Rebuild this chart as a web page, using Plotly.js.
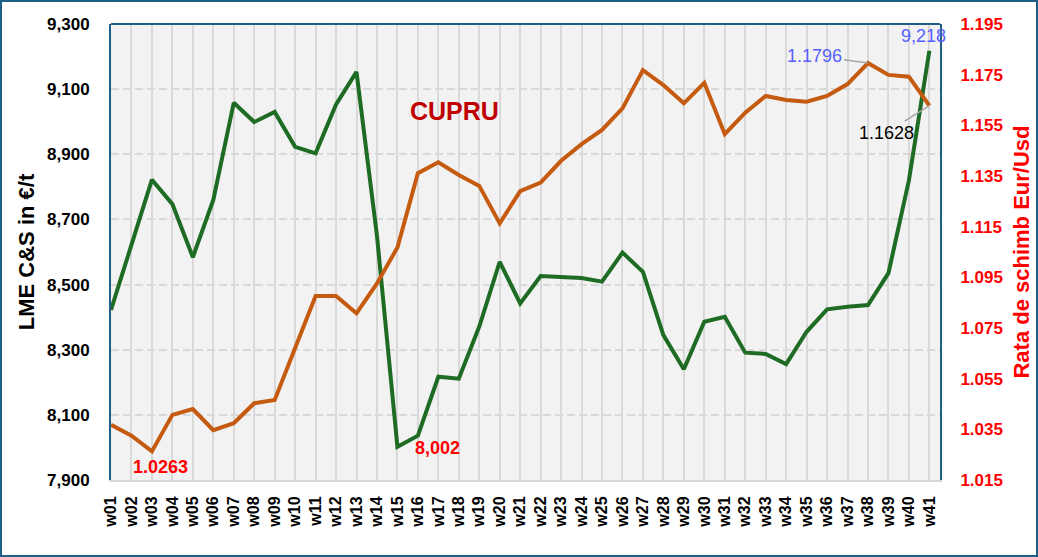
<!DOCTYPE html>
<html>
<head>
<meta charset="utf-8">
<script src="https://cdn.plot.ly/plotly-3.0.1.min.js"></script>
<style>
html,body{margin:0;padding:0;background:#fff;}
#chart{width:1038px;height:557px;box-sizing:border-box;border:2px solid #1F5F85;}
</style>
</head>
<body>
<div id="chart"></div>
<script>
const weeks = ["w01","w02","w03","w04","w05","w06","w07","w08","w09","w10",
  "w11","w12","w13","w14","w15","w16","w17","w18","w19","w20",
  "w21","w22","w23","w24","w25","w26","w27","w28","w29","w30",
  "w31","w32","w33","w34","w35","w36","w37","w38","w39","w40","w41"];

const lmeEur = [8422, 8620, 8822, 8747, 8584, 8760, 9058, 8999, 9030, 8923,
  8903, 9053, 9153, 8650, 8002, 8036, 8217, 8211, 8371, 8570,
  8442, 8526, 8523, 8520, 8509, 8598, 8539, 8345, 8240, 8386,
  8401, 8291, 8287, 8256, 8355, 8424, 8432, 8437, 8535, 8820, 9218];

const eurUsd = [1.0368, 1.0325, 1.0263, 1.0407, 1.0430, 1.0347, 1.0374, 1.0453, 1.0466, 1.0670,
  1.0876, 1.0876, 1.0808, 1.0926, 1.1068, 1.1361, 1.1404, 1.1354, 1.1311, 1.1163,
  1.1290, 1.1324, 1.1410, 1.1476, 1.1532, 1.1617, 1.1768, 1.1709, 1.1637, 1.1718,
  1.1515, 1.1600, 1.1666, 1.1650, 1.1643, 1.1666, 1.1713, 1.1796, 1.1749, 1.1742, 1.1628];

const leftTicks = [7900, 8100, 8300, 8500, 8700, 8900, 9100, 9300];
const rightTicks = [1.015, 1.035, 1.055, 1.075, 1.095, 1.115, 1.135, 1.155, 1.175, 1.195];

const FONT = "Liberation Sans, Arial, sans-serif";

const iMinFx = eurUsd.indexOf(Math.min(...eurUsd));
const iMaxFx = eurUsd.indexOf(Math.max(...eurUsd));
const iLastFx = eurUsd.length - 1;
const iMinLme = lmeEur.indexOf(Math.min(...lmeEur));
const iMaxLme = lmeEur.indexOf(Math.max(...lmeEur));

const traces = [
  {
    x: weeks, y: eurUsd, yaxis: "y2", type: "scatter", mode: "lines",
    line: {color: "#C55A11", width: 4}, hoverinfo: "skip", name: "EUR/USD"
  },
  {
    x: weeks, y: lmeEur, yaxis: "y", type: "scatter", mode: "lines",
    line: {color: "#1E6B24", width: 4}, hoverinfo: "skip", name: "LME"
  }
];

const fmt4 = v => v.toFixed(4);
const fmtK = v => v.toLocaleString("en-US");

const layout = {
  width: 1034, height: 553,
  margin: {l: 109, r: 96, t: 22, b: 75},
  paper_bgcolor: "#FFFFFF",
  plot_bgcolor: "#F2F2F2",
  showlegend: false,
  font: {family: FONT, color: "#000"},
  xaxis: {
    type: "category",
    range: [0, 40.52],
    tickangle: -90,
    tickfont: {family: FONT, size: 16, color: "#000", weight: "bold"},
    showgrid: true, gridcolor: "#D9D9D9", gridwidth: 2,
    showline: true, linecolor: "#D9D9D9", linewidth: 2,
    ticks: "", ticklabelstandoff: 8,
    zeroline: false, fixedrange: true
  },
  yaxis: {
    range: [7900, 9300],
    tickvals: leftTicks,
    tickformat: ",d",
    tickfont: {family: FONT, size: 17, color: "#000", weight: "bold"},
    showgrid: true, gridcolor: "#D9D9D9", gridwidth: 2, griddash: "8px,4px",
    showline: true, linecolor: "#1F5F85", linewidth: 2,
    ticks: "", ticklabelstandoff: 16,
    zeroline: false,
    title: {text: "LME C&S in €/t", font: {family: FONT, size: 22, color: "#000", weight: "bold"}, standoff: 6}
  },
  yaxis2: {
    overlaying: "y", side: "right",
    range: [1.015, 1.195],
    tickvals: rightTicks,
    tickformat: ".3f",
    tickfont: {family: FONT, size: 17, color: "#FF0000", weight: "bold"},
    showgrid: false,
    showline: true, linecolor: "#1F5F85", linewidth: 2,
    ticks: "", ticklabelstandoff: 15,
    zeroline: false,
    title: {text: "Rata de schimb Eur/Usd", font: {family: FONT, size: 22, color: "#FF0000", weight: "bold"}, standoff: 12}
  },
  shapes: [
    {type: "line", xref: "paper", yref: "paper", x0: 0, x1: 1, y0: 1, y1: 1,
     line: {color: "#1F5F85", width: 2}}
  ],
  annotations: [
    {xref: "paper", yref: "paper", x: 0.414, y: 0.844, text: "CUPRU", showarrow: false,
     font: {family: FONT, size: 25, color: "#C00000", weight: "bold"}},
    {x: weeks[iMaxLme], y: lmeEur[iMaxLme], xref: "x", yref: "y", text: fmtK(lmeEur[iMaxLme]),
     showarrow: false, xshift: -6, yshift: 15,
     font: {family: FONT, size: 18, color: "#5560FF"}},
    {x: weeks[iMinLme], y: lmeEur[iMinLme], xref: "x", yref: "y", text: fmtK(lmeEur[iMinLme]),
     showarrow: false, xshift: 40, yshift: -1,
     font: {family: FONT, size: 18, color: "#FF0000", weight: "bold"}},
    {x: weeks[iMinFx], y: eurUsd[iMinFx], xref: "x", yref: "y2", text: fmt4(eurUsd[iMinFx]),
     showarrow: false, xshift: 9, yshift: -16,
     font: {family: FONT, size: 18, color: "#FF0000", weight: "bold"}},
    {x: weeks[iMaxFx], y: eurUsd[iMaxFx], xref: "x", yref: "y2", text: fmt4(eurUsd[iMaxFx]),
     showarrow: true, arrowhead: 0, arrowwidth: 1.5, arrowcolor: "#A6A6A6",
     ax: -53, ay: -7, standoff: 0,
     font: {family: FONT, size: 18, color: "#5560FF"}},
    {x: weeks[iLastFx], y: eurUsd[iLastFx], xref: "x", yref: "y2", text: fmt4(eurUsd[iLastFx]),
     showarrow: true, arrowhead: 0, arrowwidth: 1.5, arrowcolor: "#A6A6A6",
     ax: -43, ay: 27, standoff: 0,
     font: {family: FONT, size: 18, color: "#000"}}
  ]
};

Plotly.newPlot("chart", traces, layout, {displayModeBar: false, staticPlot: true});
</script>
</body>
</html>
